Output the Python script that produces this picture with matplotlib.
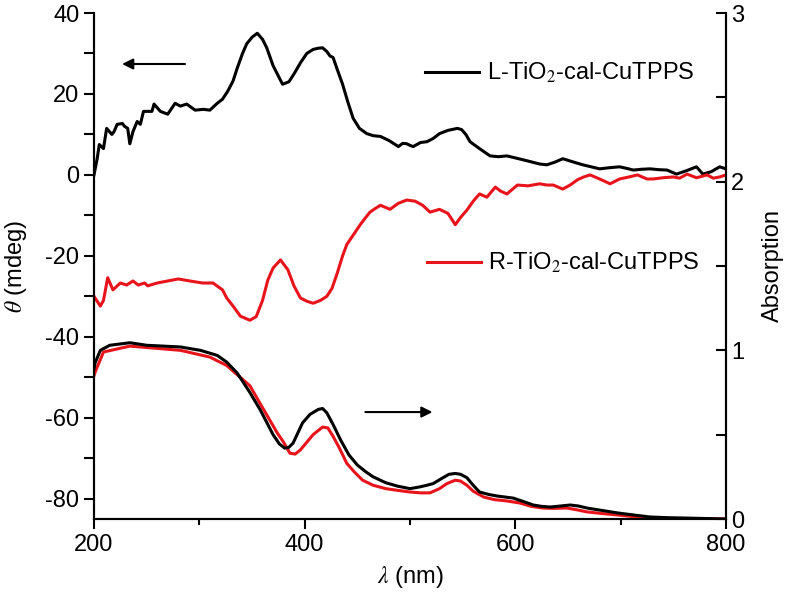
import matplotlib
matplotlib.use("Agg")
import matplotlib.pyplot as plt
from matplotlib.ticker import MultipleLocator

plt.rcParams['font.family'] = ['Liberation Sans', 'DejaVu Sans']
plt.rcParams['mathtext.fontset'] = 'stix'
plt.rcParams['axes.unicode_minus'] = False

# CD spectra (left axis, mdeg)
cd_l_nm = [200, 203, 205, 209, 212, 217, 219, 222, 227, 229, 232, 234, 237, 241, 244, 247, 251, 255,
           257, 263, 270, 277, 282, 288, 296, 304, 310, 317, 322, 327, 332, 336, 341, 345, 350, 355,
           360, 364, 370, 379, 385, 390, 396, 402, 408, 413, 417, 421, 424, 427, 431, 436, 441, 446,
           452, 459, 465, 472, 480, 489, 493, 497, 500, 503, 510, 516, 522, 528, 536, 545, 549, 553,
           557, 566, 576, 584, 592, 600, 611, 623, 630, 638, 645, 655, 664, 672, 680, 690, 699, 706,
           712, 720, 728, 736, 744, 753, 762, 772, 778, 786, 794, 800]
cd_l = [0, 4, 7.5, 6.5, 11.5, 10, 10.7, 12.5, 12.7, 12, 11.5, 7.7, 10.7, 13.2, 12.5, 15.7, 15.7, 15.7,
        17.5, 15.7, 15, 17.7, 17, 17.5, 16, 16.2, 16, 17.7, 18.7, 20.7, 23.2, 26.4, 30, 32.4, 34, 35,
        33.5, 31.4, 27, 22.4, 23, 25, 27.7, 30, 31, 31.3, 31.4, 30.5, 29.4, 29, 26, 22.4, 18, 14,
        11.5, 10.2, 9.7, 9.5, 8.5, 7, 7.8, 7.7, 7.3, 7, 8, 8.2, 9, 10.2, 11, 11.5, 11.2, 10,
        8.2, 6.5, 4.7, 4.5, 4.7, 4.2, 3.5, 2.7, 2.5, 3.2, 4, 3.2, 2.5, 2.0, 1.5, 1.8, 2, 1.6,
        1.2, 1.4, 1.5, 1.3, 1.2, 0.2, 1.0, 2, 0.2, 0.8, 2, 1.5]

cd_r_nm = [200, 206, 209, 213, 218, 225, 231, 237, 242, 248, 251, 260, 270, 280, 291, 303, 313, 322,
           326, 332, 339, 348, 354, 360, 365, 370, 377, 384, 390, 396, 402, 408, 415, 421, 426, 431,
           436, 440, 447, 453, 458, 462, 467, 472, 481, 489, 497, 505, 512, 519, 528, 536, 543, 548,
           554, 560, 566, 573, 581, 586, 592, 602, 612, 623, 630, 636, 645, 652, 659, 665, 671, 680,
           690, 699, 708, 716, 725, 731, 740, 750, 756, 763, 772, 782, 788, 794, 800]
cd_r = [-30, -32.4, -31, -25.4, -28.4, -26.7, -27.2, -26.2, -27.2, -26.7, -27.4, -26.7, -26.2, -25.7,
        -26.2, -26.7, -26.7, -28.4, -30.4, -32.4, -34.9, -35.9, -35, -31, -26, -23, -21, -23.4, -27.5,
        -30.4, -31.2, -31.7, -31, -30, -28, -24.2, -20, -17.2, -14.5, -12.2, -10.5, -9.2, -8.3, -7.5,
        -8.5, -7, -6.2, -6.5, -7.5, -9.2, -8.5, -9.5, -12.3, -10.5, -8.7, -6.5, -4.7, -5.5, -3, -4,
        -4.7, -2.5, -2.7, -2.2, -2.5, -2.5, -3.5, -2.5, -1.2, -0.5, 0, -1, -2.2, -1, -0.5, 0, -1, -1,
        -0.7, -0.5, -0.8, 0.2, -0.7, 0, -0.8, -0.5, 0]

# absorption spectra (right axis)
abs_l_nm = [200, 201, 206, 215, 234, 250, 282, 301, 317, 326, 336, 348, 358, 370, 376, 381, 385, 389,
            398, 405, 413, 417, 421, 427, 434, 442, 450, 458, 465, 477, 488, 500, 509, 516, 522, 530,
            537, 543, 548, 554, 560, 566, 575, 583, 598, 607, 617, 625, 633, 643, 652, 660, 668, 683,
            697, 712, 728, 744, 759, 780, 800]
abs_l = [0.89, 0.925, 1.0, 1.03, 1.045, 1.03, 1.02, 1.0, 0.97, 0.93, 0.865, 0.75, 0.645, 0.5, 0.445,
         0.42, 0.425, 0.45, 0.57, 0.62, 0.65, 0.655, 0.63, 0.56, 0.47, 0.38, 0.32, 0.28, 0.25, 0.215,
         0.195, 0.18, 0.19, 0.2, 0.21, 0.24, 0.265, 0.27, 0.265, 0.245, 0.2, 0.16, 0.145, 0.136,
         0.124, 0.105, 0.083, 0.075, 0.071, 0.077, 0.083, 0.077, 0.065, 0.05, 0.036, 0.024, 0.012,
         0.008, 0.006, 0.003, 0.0]

abs_r_nm = [200, 201, 209, 234, 282, 310, 326, 348, 360, 374, 380, 386, 391, 396, 408, 417, 422, 427,
            433, 440, 447, 455, 465, 477, 488, 500, 510, 519, 528, 535, 543, 548, 554, 560, 570, 580,
            592, 604, 615, 626, 636, 649, 658, 668, 683, 697, 712, 728, 750, 775, 800]
abs_r = [0.85, 0.87, 0.99, 1.025, 1.0, 0.96, 0.91, 0.79, 0.66, 0.51, 0.455, 0.39, 0.385, 0.41, 0.5,
         0.545, 0.54, 0.49, 0.42, 0.33, 0.28, 0.23, 0.2, 0.18, 0.17, 0.16, 0.155, 0.155, 0.18, 0.21,
         0.23, 0.225, 0.2, 0.165, 0.13, 0.115, 0.107, 0.095, 0.075, 0.065, 0.063, 0.065, 0.055, 0.042,
         0.032, 0.024, 0.014, 0.006, 0.003, 0.001, 0.0]

label_l = 'L-TiO$_2$-cal-CuTPPS'
label_r = 'R-TiO$_2$-cal-CuTPPS'
red = '#e8141b'
fs = 17

fig = plt.figure(figsize=(7.88, 5.97), dpi=100)
ax = fig.add_axes([94/788, 1-519/597, (726-94)/788, (519-13)/597])
ax2 = ax.twinx()

lw = 2.2
hl, = ax.plot(cd_l_nm, cd_l, color='black', lw=lw)
hr, = ax.plot(cd_r_nm, cd_r, color=red, lw=lw)
ax2.plot(abs_r_nm, abs_r, color=red, lw=lw)
ax2.plot(abs_l_nm, abs_l, color='black', lw=lw)

ax.set_xlim(200, 800)
ax.set_ylim(-85, 40)
ax2.set_ylim(0, 3)

ax.xaxis.set_major_locator(MultipleLocator(200))
ax.xaxis.set_minor_locator(MultipleLocator(100))
ax.yaxis.set_major_locator(MultipleLocator(20))
ax.yaxis.set_minor_locator(MultipleLocator(10))
ax2.yaxis.set_major_locator(MultipleLocator(1))
ax2.yaxis.set_minor_locator(MultipleLocator(0.5))

for a in (ax, ax2):
    a.spines['top'].set_visible(False)
    for s in a.spines.values():
        s.set_linewidth(1.5)
ax.tick_params(axis='both', which='both', direction='out', width=1.5, labelsize=fs)
ax.tick_params(axis='x', which='major', length=7)
ax.tick_params(axis='x', which='minor', length=4)
ax.tick_params(axis='y', which='both', length=7)
ax2.tick_params(axis='y', which='both', direction='in', length=7, width=1.5, labelsize=fs)

ax.set_xlabel(r'$\lambda$ (nm)', fontsize=fs, labelpad=6)
ax.set_ylabel(r'$\theta$ (mdeg)', fontsize=fs, labelpad=12)
ax2.set_ylabel('Absorption', fontsize=fs, labelpad=13)

leg1 = ax.legend([hl], [label_l], loc='center left', bbox_to_anchor=(0.524, 0.881),
                 frameon=False, fontsize=fs, handlelength=2.3, handletextpad=0.3,
                 borderpad=0, borderaxespad=0)
ax.add_artist(leg1)
ax.legend([hr], [label_r], loc='center left', bbox_to_anchor=(0.527, 0.506),
          frameon=False, fontsize=fs, handlelength=2.3, handletextpad=0.3,
          borderpad=0, borderaxespad=0)

arrow = dict(arrowstyle='-|>', color='black', lw=1.5, mutation_scale=16)
ax.annotate('', xy=(224, 27.4), xytext=(289, 27.4), arrowprops=arrow)
ax2.annotate('', xy=(524, 0.634), xytext=(455, 0.634), arrowprops=arrow)

fig.savefig('out.png', dpi=100)
